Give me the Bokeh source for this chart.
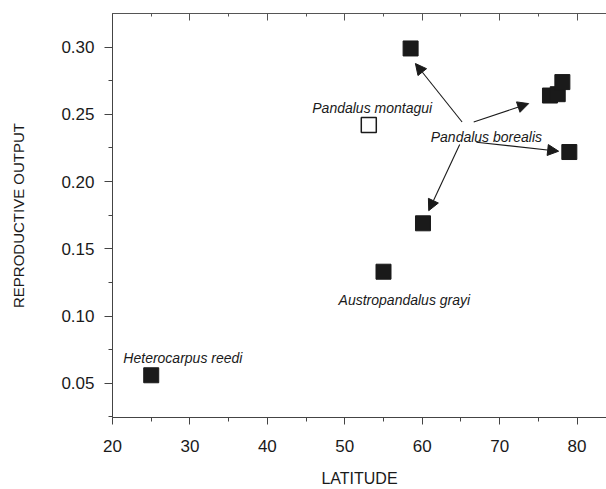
from bokeh.plotting import figure
from bokeh.models import (ColumnDataSource, Arrow, NormalHead, LinearAxis,
                          SingleIntervalTicker, PrintfTickFormatter, Range1d,
                          CustomJSTickFormatter)
from bokeh.core.properties import value
from bokeh.embed import file_html
from bokeh.resources import INLINE

# ---- data ----
filled_lat = [25.0, 55.0, 58.5, 60.1, 76.5, 77.5, 78.1, 79.0]
filled_ro = [0.056, 0.133, 0.299, 0.169, 0.264, 0.265, 0.274, 0.222]
open_lat = [53.1]
open_ro = [0.242]

label_text = ["Pandalus montagui", "Pandalus borealis",
              "Heterocarpus reedi", "Austropandalus grayi"]
label_lat = [45.8, 61.1, 21.4, 49.2]
label_ro = [0.2547, 0.2331, 0.0690, 0.1117]

arrow_lat0 = [65.15, 66.65, 67.0, 64.84]
arrow_ro0 = [0.2443, 0.2443, 0.2293, 0.2276]
arrow_lat1 = [59.12, 73.75, 77.62, 60.84]
arrow_ro1 = [0.2878, 0.258, 0.2226, 0.1784]

x_ticks_interval = 10
y_ticks_interval = 0.05

FONT = "Liberation Sans"
INK = "#1a1a1a"

p = figure(width=606, height=489,
           x_range=Range1d(19.999, 83.8), y_range=Range1d(0.0246, 0.325),
           output_backend="svg", toolbar_location=None,
           x_axis_location=None, y_axis_location=None,
           min_border_left=112, min_border_right=0,
           min_border_top=13, min_border_bottom=72)
p.grid.visible = False
p.outline_line_color = None
p.background_fill_color = "white"
p.border_fill_color = "white"

# left axis
yaxis = LinearAxis(
    ticker=SingleIntervalTicker(interval=y_ticks_interval, num_minor_ticks=2),
    formatter=PrintfTickFormatter(format="%.2f"),
    axis_label="REPRODUCTIVE OUTPUT",
    major_tick_out=8, major_tick_in=0, minor_tick_out=4, minor_tick_in=0,
    major_label_standoff=10, axis_label_standoff=31,
    major_label_text_font=FONT, major_label_text_font_size="17px",
    major_label_text_color=INK,
    axis_label_text_font=FONT, axis_label_text_font_size="15px",
    axis_label_text_font_style="normal", axis_label_text_color=INK,
    axis_line_color="#444444", major_tick_line_color="#444444",
    minor_tick_line_color="#444444")
p.add_layout(yaxis, "left")

# bottom axis
xaxis = LinearAxis(
    ticker=SingleIntervalTicker(interval=x_ticks_interval, num_minor_ticks=2),
    axis_label="LATITUDE",
    major_tick_out=7, major_tick_in=0, minor_tick_out=4, minor_tick_in=0,
    major_label_standoff=15, axis_label_standoff=15,
    major_label_text_font=FONT, major_label_text_font_size="17px",
    major_label_text_color=INK,
    axis_label_text_font=FONT, axis_label_text_font_size="16px",
    axis_label_text_font_style="normal", axis_label_text_color=INK,
    axis_line_color="#444444", major_tick_line_color="#444444",
    minor_tick_line_color="#444444")
p.add_layout(xaxis, "below")

# top mirror axis with inward ticks, no labels
taxis = LinearAxis(
    ticker=SingleIntervalTicker(interval=x_ticks_interval, num_minor_ticks=2),
    formatter=CustomJSTickFormatter(code="return '';"),
    major_tick_out=0, major_tick_in=7, minor_tick_out=0, minor_tick_in=3,
    major_label_standoff=0,
    axis_line_color="#555555", major_tick_line_color="#555555",
    minor_tick_line_color="#555555")
p.add_layout(taxis, "above")

# arrows
arrow_src = ColumnDataSource(dict(x0=arrow_lat0, y0=arrow_ro0,
                                  x1=arrow_lat1, y1=arrow_ro1))
p.add_layout(Arrow(source=arrow_src, x_start="x0", y_start="y0",
                   x_end="x1", y_end="y1", line_color=INK, line_width=1.1,
                   end=NormalHead(size=11, fill_color=INK, line_color=INK)))

# points
p.scatter(filled_lat, filled_ro, marker="square", size=15,
          fill_color=INK, line_color=INK, line_width=1)
p.scatter(open_lat, open_ro, marker="square", size=15,
          fill_color="white", line_color=INK, line_width=1.5)

# labels
lab_src = ColumnDataSource(dict(x=label_lat, y=label_ro, t=label_text))
p.text(x="x", y="y", text="t", source=lab_src,
       text_font=value(FONT), text_font_size="14px",
       text_font_style="italic", text_color=INK,
       text_align="left", text_baseline="alphabetic")

open("out.html", "w").write(file_html(p, INLINE))
